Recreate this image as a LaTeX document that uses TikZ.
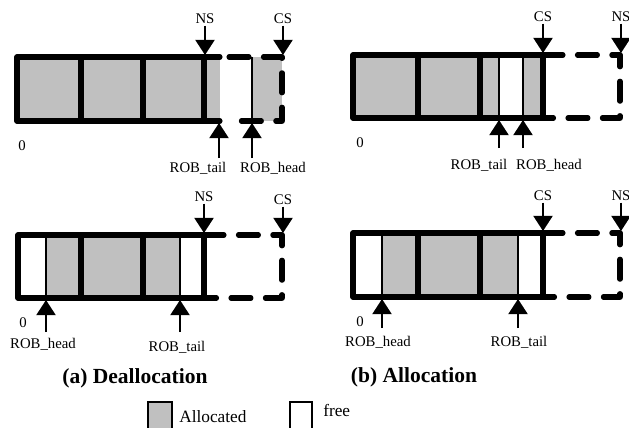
\documentclass[tikz,border=0pt]{standalone}
\usepackage{fontspec}
\setmainfont{Liberation Serif}
\usetikzlibrary{arrows.meta}
\definecolor{cellgray}{RGB}{192,192,192}
\tikzset{
  wall/.style={line width=3.6pt, line join=round, line cap=round},
  thinwall/.style={line width=1.4pt},
  dashwall/.style={line width=3.6pt, line cap=round, line join=round,
    dash pattern=on 0.5cm off 0.36cm},
  ptr/.style={line width=1.4pt, -{Triangle[length=0.38cm,width=0.48cm]}},
  lbl/.style={font=\fontsize{10.5}{12}\selectfont, inner sep=1pt},
  caption/.style={font=\fontsize{15.3}{18}\selectfont\bfseries},
  keybox/.style={line width=1.8pt},
  keytext/.style={font=\fontsize{12.3}{14}\selectfont, anchor=west, inner sep=0pt}
}
\begin{document}
\begin{tikzpicture}[x=0.025cm, y=-0.025cm]
\useasboundingbox (0,0) rectangle (629,427);
% (a) top
\fill[cellgray] (17,57) rectangle (220,121);
\fill[cellgray] (252,57) rectangle (282,121);
\draw[thinwall] (252,57) -- (252,121);
\draw[wall] (220,57) -- (17,57) -- (17,121) -- (220,121);
\draw[wall] (81,57) -- (81,121) (143,57) -- (143,121) (204,57) -- (204,121);
\draw[dashwall] (229,57) -- (282,57) -- (282,121) -- (229,121);
%
\node[lbl] (nsA) at (205,19) {NS};
\node[lbl] (csA) at (283,19) {CS};
\coordinate (nsAtip) at (205,55);
\coordinate (csAtip) at (283,55);
\draw[ptr] (nsA) -- (nsAtip);
\draw[ptr] (csA) -- (csAtip);
\coordinate (tailAfoot) at (219,158);
\coordinate (tailAtip) at (219,123);
\coordinate (headAfoot) at (252,158);
\coordinate (headAtip) at (252,123);
\draw[ptr] (tailAfoot) -- (tailAtip);
\draw[ptr] (headAfoot) -- (headAtip);
\node[lbl] (tailA) at (198,168) {ROB\_tail};
\node[lbl] (headA) at (273,168) {ROB\_head};
\node[lbl] (zeroA) at (22,146) {0};
% (b) top
\fill[cellgray] (353,55) rectangle (499,118);
\fill[cellgray] (523,55) rectangle (543,118);
\draw[thinwall] (499,55) -- (499,118) (523,55) -- (523,118);
\draw[wall] (353,55) rectangle (543,118);
\draw[wall] (418,55) -- (418,118) (480,55) -- (480,118);
\draw[dashwall] (543,55) -- (620,55) -- (620,118) -- (543,118);
%
\node[lbl] (csB) at (543,17) {CS};
\node[lbl] (nsB) at (621,17) {NS};
\coordinate (csBtip) at (543,53);
\coordinate (nsBtip) at (621,53);
\draw[ptr] (csB) -- (csBtip);
\draw[ptr] (nsB) -- (nsBtip);
\coordinate (tailBfoot) at (499,148);
\coordinate (tailBtip) at (499,120);
\coordinate (headBfoot) at (523,148);
\coordinate (headBtip) at (523,120);
\draw[ptr] (tailBfoot) -- (tailBtip);
\draw[ptr] (headBfoot) -- (headBtip);
\node[lbl] (tailB) at (479,165) {ROB\_tail};
\node[lbl] (headB) at (549,165) {ROB\_head};
\node[lbl] (zeroB) at (360,143) {0};
% (a) bottom
\fill[cellgray] (46,235) rectangle (180,298);
\draw[thinwall] (46,235) -- (46,298) (180,235) -- (180,298);
\draw[wall] (18,235) rectangle (204,298);
\draw[wall] (81,235) -- (81,298) (143,235) -- (143,298);
\draw[dashwall] (204,235) -- (282,235) -- (282,298) -- (204,298);
%
\node[lbl] (nsC) at (204,197) {NS};
\node[lbl] (csC) at (283,200) {CS};
\coordinate (nsCtip) at (204,233);
\coordinate (csCtip) at (283,233);
\draw[ptr] (nsC) -- (nsCtip);
\draw[ptr] (csC) -- (csCtip);
\coordinate (headCfoot) at (46,332);
\coordinate (headCtip) at (46,300);
\coordinate (tailCfoot) at (180,332);
\coordinate (tailCtip) at (180,300);
\draw[ptr] (headCfoot) -- (headCtip);
\draw[ptr] (tailCfoot) -- (tailCtip);
\node[lbl] (headC) at (43,344) {ROB\_head};
\node[lbl] (tailC) at (177,347) {ROB\_tail};
\node[lbl] (zeroC) at (23,323) {0};
% (b) bottom
\fill[cellgray] (382,233) rectangle (518,297);
\draw[thinwall] (382,233) -- (382,297) (518,233) -- (518,297);
\draw[wall] (353,233) rectangle (543,297);
\draw[wall] (418,233) -- (418,297) (480,233) -- (480,297);
\draw[dashwall] (543,233) -- (620,233) -- (620,297) -- (543,297);
%
\node[lbl] (csD) at (543,196) {CS};
\node[lbl] (nsD) at (621,196) {NS};
\coordinate (csDtip) at (543,231);
\coordinate (nsDtip) at (621,231);
\draw[ptr] (csD) -- (csDtip);
\draw[ptr] (nsD) -- (nsDtip);
\coordinate (headDfoot) at (382,328);
\coordinate (headDtip) at (382,299);
\coordinate (tailDfoot) at (518,328);
\coordinate (tailDtip) at (518,299);
\draw[ptr] (headDfoot) -- (headDtip);
\draw[ptr] (tailDfoot) -- (tailDtip);
\node[lbl] (headD) at (378,342) {ROB\_head};
\node[lbl] (tailD) at (519,342) {ROB\_tail};
\node[lbl] (zeroD) at (360,322) {0};
% captions and key
\node[caption] (capA) at (135,378) {(a) Deallocation};
\node[caption] (capB) at (414,377) {(b) Allocation};
\draw[keybox, fill=cellgray] (148,402) rectangle (172,434);
\node[keytext] (keyAlloc) at (179,417) {Allocated};
\draw[keybox] (290,402) rectangle (312,434);
\node[keytext] (keyFree) at (323,410) {free};
\end{tikzpicture}
\end{document}
